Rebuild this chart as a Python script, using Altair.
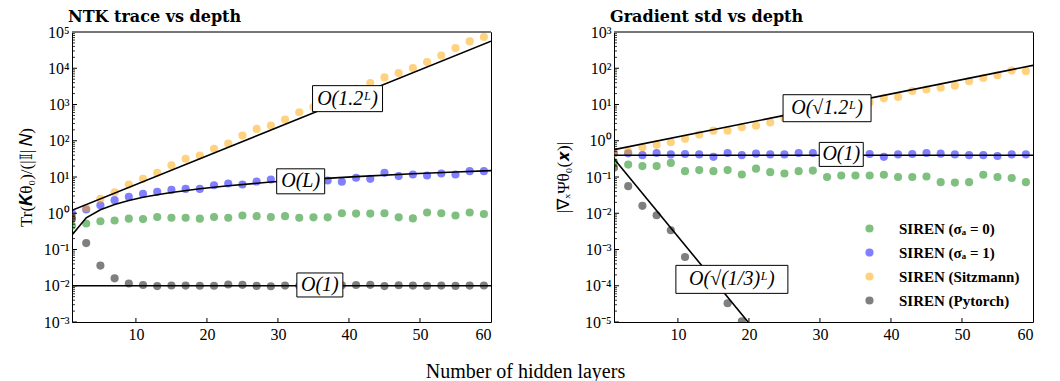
import altair as alt
import pandas as pd

# ---------------- data ----------------
L = [1, 3, 5, 7, 9, 11, 13, 15, 17, 19, 21, 23, 25, 27, 29,
     31, 33, 35, 37, 39, 41, 43, 45, 47, 49, 51, 53, 55, 57, 59]

series_names = ["SIREN (σₐ = 0)", "SIREN (σₐ = 1)", "SIREN (Sitzmann)", "SIREN (Pytorch)"]
series_colors = ["#008000", "#0000ff", "#ffa500", "#000000"]

# NTK trace (left)
ntk_sigma0 = [0.45, 0.52, 0.60, 0.63, 0.71, 0.69, 0.79, 0.75, 0.75, 0.71, 0.79, 0.75, 0.87, 0.83, 0.79,
              0.83, 0.75, 0.77, 0.77, 1.00, 0.98, 0.98, 1.00, 0.77, 0.72, 1.05, 1.00, 0.87, 1.05, 0.95]
ntk_sigma1 = [1.0, 1.27, 1.66, 2.3, 2.85, 3.45, 3.9, 4.4, 4.7, 4.7, 5.9, 6.6, 6.2, 7.5, 8.5,
              8.2, 8.0, 8.3, 8.0, 7.4, 9.5, 8.9, 13.0, 10.6, 11.7, 11.0, 12.5, 11.7, 14.5, 14.5]
ntk_sitz = [0.8, 1.4, 2.5, 3.8, 6.2, 8.9, 13, 21, 32, 39, 60, 84, 139, 212, 262,
            383, 610, 850, 1300, 1900, 2700, 3900, 5600, 7400, 10200, 14800, 22300, 36000, 55000, 73000]
ntk_torch = [0.7, 0.15, 0.036, 0.016, 0.0115, 0.0105, 0.0098, 0.0102, 0.0101, 0.0100, 0.0100, 0.0108, 0.0106, 0.0099, 0.0097,
             0.0101, 0.0100, 0.0100, 0.0102, 0.0103, 0.0105, 0.0106, 0.0098, 0.0103, 0.0101, 0.0099, 0.0101, 0.0099, 0.0101, 0.0102]

# Gradient std (right)
grad_sigma0 = [0.26, 0.22, 0.20, 0.20, 0.245, 0.145, 0.155, 0.145, 0.155, 0.117, 0.17, 0.136, 0.125, 0.145, 0.15,
               0.10, 0.11, 0.11, 0.11, 0.115, 0.10, 0.10, 0.103, 0.072, 0.07, 0.072, 0.115, 0.10, 0.094, 0.072]
grad_sigma1 = [0.45, 0.45, 0.40, 0.46, 0.42, 0.43, 0.42, 0.36, 0.46, 0.40, 0.44, 0.42, 0.42, 0.46, 0.46,
               0.42, 0.42, 0.42, 0.43, 0.36, 0.42, 0.43, 0.46, 0.44, 0.42, 0.40, 0.40, 0.38, 0.42, 0.42]
grad_sitz = [0.45, 0.51, 0.66, 0.78, 0.91, 1.13, 1.48, 1.9, 1.9, 2.35, 2.6, 3.2, 4.2, 5.0, 6.0,
             7.5, 8.5, 9.5, 11.5, 14.8, 16.2, 23.5, 26, 29, 33, 44, 54, 64, 86, 83]
grad_torch_L = [1, 3, 5, 7, 9, 11, 13, 15, 17, 19]
grad_torch = [0.18, 0.056, 0.016, 0.0088, 0.0034, 0.00062, 0.0002, 0.0001, 0.000033, 0.0000105]

# reference (fit) lines
ntk_exp_x, ntk_exp_y = [1, 60], [1.2, 56000]
ntk_lin_x = [1, 3, 5, 7, 9, 11, 13, 15, 19, 23, 29, 35, 41, 49, 55, 60]
ntk_lin_y = [0.25, 0.75, 1.25, 1.75, 2.25, 2.75, 3.25, 3.75, 4.75, 5.75, 7.25, 8.75, 10.25, 12.25, 13.75, 15.0]
ntk_const_x, ntk_const_y = [1, 60], [0.01, 0.01]
grad_exp_x, grad_exp_y = [1, 60], [0.57, 120]
grad_const_x, grad_const_y = [1, 60], [0.4, 0.4]
grad_decay_x, grad_decay_y = [1, 21], [0.32, 0.0000054]

# annotation labels: text, x, y, box half-width, box half-height (px)
ntk_labels = [("O(1.2ᴸ)", 39.8, 1450, 35, 13),
              ("O(L)", 33.2, 7.6, 24, 12.5),
              ("O(1)", 35.9, 0.0105, 23, 12)]
grad_labels = [("O(√1.2ᴸ)", 31.0, 7.9, 44, 13.5),
               ("O(1)", 33.0, 0.42, 22, 12),
               ("O(√(1/3)ᴸ)", 17.6, 0.00015, 56, 14)]

x_ticks = [10, 20, 30, 40, 50, 60]
ntk_yticks = [1e-3, 1e-2, 1e-1, 1e0, 1e1, 1e2, 1e3, 1e4, 1e5]
ntk_ylabels = ["10⁻³", "10⁻²", "10⁻¹", "10⁰", "10¹", "10²", "10³", "10⁴", "10⁵"]
grad_yticks = [1e-5, 1e-4, 1e-3, 1e-2, 1e-1, 1e0, 1e1, 1e2, 1e3]
grad_ylabels = ["10⁻⁵", "10⁻⁴", "10⁻³", "10⁻²", "10⁻¹", "10⁰", "10¹", "10²", "10³"]
minor_mult = [2, 3, 4, 5, 6, 7, 8, 9]

W, H = 419, 290
SERIF = "Liberation Serif"


def label_expr(vals, labels):
    expr = "''"
    for v, lab in reversed(list(zip(vals, labels))):
        expr = f"(abs(datum.value/{v!r} - 1) < 0.01) ? '{lab}' : " + expr
    return expr


def panel(series_data, lines, labels, yticks, ylabels, title, ytitle, ytitle_pad, legend):
    rows = []
    for name, (xs, ys) in zip(series_names, series_data):
        for x, y in zip(xs, ys):
            rows.append({"L": x, "val": y, "series": name})
    df = pd.DataFrame(rows)

    xs_scale = alt.Scale(domain=[1, 60], nice=False, zero=False)
    ys_scale = alt.Scale(type="log", domain=[yticks[0], yticks[-1]], nice=False)

    xaxis = alt.Axis(values=x_ticks, format="d", ticks=False, grid=False, title=None,
                     labelPadding=4, domain=False)
    yaxis = alt.Axis(values=yticks, labelExpr=label_expr(yticks, ylabels), ticks=False,
                     grid=False, title=ytitle, titlePadding=ytitle_pad, labelPadding=3,
                     domain=False)

    def X(f):
        return alt.X(f, scale=xs_scale, axis=xaxis)

    def Y(f):
        return alt.Y(f, scale=ys_scale, axis=yaxis)

    pts = alt.Chart(df).mark_circle(size=66, opacity=0.5, clip=True).encode(
        x=X("L:Q"), y=Y("val:Q"),
        color=alt.Color("series:N", scale=alt.Scale(domain=series_names, range=series_colors),
                        sort=series_names, legend=legend),
    )
    layers = [pts]
    for lx, ly in lines:
        ldf = pd.DataFrame({"L": lx, "val": ly})
        layers.append(alt.Chart(ldf).mark_line(color="black", strokeWidth=1.6, clip=True).encode(
            x=X("L:Q"), y=Y("val:Q")))
    for text, lx, ly, hw, hh in labels:
        ldf = pd.DataFrame({"L": [lx], "val": [ly], "t": [text]})
        layers.append(alt.Chart(ldf).mark_rect(fill="white", stroke="black", strokeWidth=1,
                                              xOffset=-hw, x2Offset=hw, yOffset=-hh, y2Offset=hh).encode(
            x=X("L:Q"), x2="L:Q", y=Y("val:Q"), y2="val:Q"))
        layers.append(alt.Chart(ldf).mark_text(font=SERIF, fontSize=20, fontStyle="italic",
                                              baseline="middle", align="center", color="black").encode(
            x=X("L:Q"), y=Y("val:Q"), text="t:N"))
    # inward ticks
    major = pd.DataFrame({"val": yticks})
    minor_vals = [m * t for t in yticks[:-1] for m in minor_mult]
    minor = pd.DataFrame({"val": minor_vals})
    xt = pd.DataFrame({"L": x_ticks[:-1]})
    layers.append(alt.Chart(major).mark_rule(color="black", strokeWidth=1).encode(
        y=Y("val:Q"), x=alt.value(0), x2=alt.value(5)))
    layers.append(alt.Chart(minor).mark_rule(color="black", strokeWidth=0.8).encode(
        y=Y("val:Q"), x=alt.value(0), x2=alt.value(3)))
    layers.append(alt.Chart(xt).mark_rule(color="black", strokeWidth=1).encode(
        x=X("L:Q"), y=alt.value(H), y2=alt.value(H - 4)))
    # grey top spine
    layers.append(alt.Chart(major).mark_rule(color="#777777", strokeWidth=1.5).encode(
        x=alt.value(0), x2=alt.value(W), y=alt.value(0)))

    return alt.layer(*layers).properties(
        width=W, height=H,
        title=alt.TitleParams(title, anchor="start", frame="group", font="DejaVu Serif",
                              fontSize=16, fontWeight="bold", offset=-1, dx=-4, color="black"),
    )


left = panel([(L, ntk_sigma0), (L, ntk_sigma1), (L, ntk_sitz), (L, ntk_torch)],
             [(ntk_exp_x, ntk_exp_y), (ntk_lin_x, ntk_lin_y), (ntk_const_x, ntk_const_y)],
             ntk_labels, ntk_yticks, ntk_ylabels, "NTK trace vs depth",
             "Tr(𝑲θ₀)/(|𝕀| 𝑁)", 8, None)

legend = alt.Legend(title=None, orient="bottom-right", offset=13, symbolType="circle",
                    symbolSize=66, symbolOpacity=0.5, symbolStrokeWidth=0,
                    labelFont=SERIF, labelFontWeight="bold", labelFontSize=15,
                    labelColor="black", labelOffset=22, rowPadding=8, padding=0,
                    labelLimit=300)
right = panel([(L, grad_sigma0), (L, grad_sigma1), (L, grad_sitz), (grad_torch_L, grad_torch)],
              [(grad_exp_x, grad_exp_y), (grad_const_x, grad_const_y), (grad_decay_x, grad_decay_y)],
              grad_labels, grad_yticks, grad_ylabels, "Gradient std vs depth",
              "|∇ₓΨθ₀(𝒙)|", 12, legend)

chart = alt.hconcat(left, right, spacing=60).resolve_scale(color="independent").resolve_legend(
    color="independent"
).properties(
    title=alt.TitleParams("Number of hidden layers", orient="bottom", anchor="middle",
                          font=SERIF, fontSize=20, fontWeight="normal", offset=19, color="black"),
    padding={"left": 8, "top": 0, "right": 2, "bottom": 2},
).configure_view(stroke="black", strokeWidth=1).configure_axis(
    labelFont=SERIF, labelFontSize=16, labelColor="black",
    titleFont=SERIF, titleFontSize=17, titleFontWeight="normal", titleColor="black",
)

chart.save("out.html", embed_options={"renderer": "svg", "actions": False})
